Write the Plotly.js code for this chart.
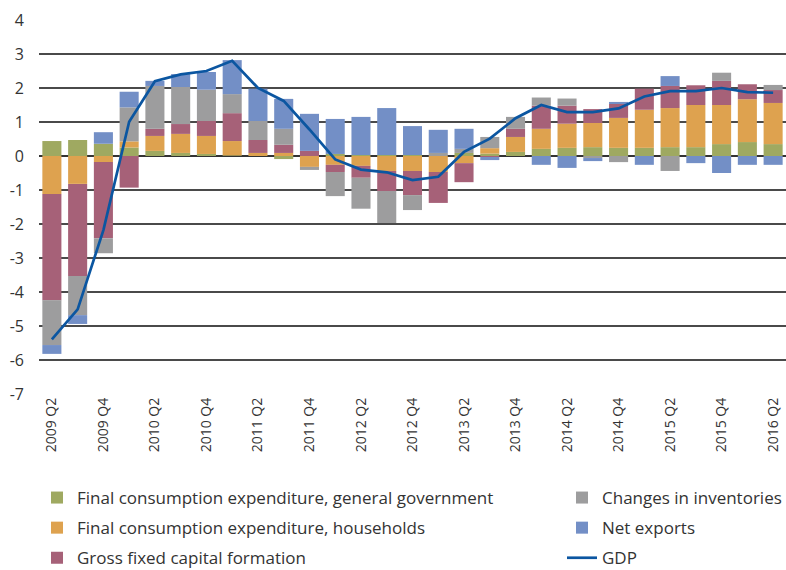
<!DOCTYPE html>
<html>
<head>
<meta charset="utf-8">
<script src="https://cdn.plot.ly/plotly-3.0.1.min.js"></script>
<style>html,body{margin:0;padding:0;background:#fff;}#chart{width:786px;height:570px;}</style>
</head>
<body>
<div id="chart"></div>
<script>
const quarters = ["2009 Q2","2009 Q3","2009 Q4","2010 Q1","2010 Q2","2010 Q3","2010 Q4","2011 Q1","2011 Q2","2011 Q3","2011 Q4","2012 Q1","2012 Q2","2012 Q3","2012 Q4","2013 Q1","2013 Q2","2013 Q3","2013 Q4","2014 Q1","2014 Q2","2014 Q3","2014 Q4","2015 Q1","2015 Q2","2015 Q3","2015 Q4","2016 Q1","2016 Q2"];
const tickLabels = ["2009 Q2","2009 Q4","2010 Q2","2010 Q4","2011 Q2","2011 Q4","2012 Q2","2012 Q4","2013 Q2","2013 Q4","2014 Q2","2014 Q4","2015 Q2","2015 Q4","2016 Q2"];
const yTickVals = [-7,-6,-5,-4,-3,-2,-1,0,1,2,3,4];
const yTickText = ["-7","-6","-5","-4","-3","-2","-1","0","1","2","3","4"];
const govConsumption = [0.44,0.47,0.36,0.25,0.15,0.09,0.06,0.02,0.0,-0.09,0.0,0.06,0.03,0.03,0.03,0.0,0.09,0.07,0.12,0.21,0.24,0.26,0.24,0.24,0.26,0.26,0.35,0.41,0.35];
const hhConsumption = [-1.12,-0.82,-0.18,0.18,0.44,0.56,0.53,0.42,0.09,0.09,-0.32,-0.26,-0.29,-0.44,-0.44,-0.47,-0.21,0.16,0.44,0.59,0.71,0.71,0.88,1.12,1.15,1.24,1.15,1.26,1.21];
const gfcf = [-3.12,-2.71,-2.24,-0.93,0.21,0.29,0.44,0.82,0.38,0.24,0.15,-0.21,-0.35,-0.59,-0.71,-0.91,-0.56,-0.03,0.24,0.68,0.53,0.41,0.41,0.62,0.65,0.58,0.71,0.44,0.38];
const inventories = [-1.32,-1.15,-0.44,1.0,1.26,1.09,0.92,0.56,0.56,0.47,-0.09,-0.71,-0.91,-0.94,-0.44,0.09,0.12,0.33,0.35,0.24,0.21,-0.06,-0.18,0.0,-0.44,0.0,0.24,0.0,0.15];
const netExports = [-0.26,-0.26,0.34,0.46,0.15,0.38,0.52,1.0,0.95,0.88,1.09,1.03,1.12,1.38,0.85,0.68,0.59,-0.09,0.0,-0.26,-0.35,-0.09,0.06,-0.26,0.29,-0.21,-0.5,-0.26,-0.26];
const gdp = [-5.39,-4.51,-2.18,1.01,2.2,2.4,2.5,2.8,2.0,1.62,0.78,-0.1,-0.40,-0.48,-0.71,-0.61,0.12,0.51,1.11,1.5,1.29,1.29,1.40,1.75,1.91,1.91,2.0,1.88,1.86];

const names = ["Final consumption expenditure, general government","Final consumption expenditure, households","Gross fixed capital formation","Changes in inventories","Net exports","GDP"];
const colors = ["#9fa961","#dea24f","#a66178","#9d9d9e","#738fc6","#0b56a1"];
const series = [govConsumption, hhConsumption, gfcf, inventories, netExports];
const legendOf = ["legend","legend","legend","legend2","legend2"];
const ranks = [1,2,3,1,2];

const traces = series.map((s,i)=>({
  type:'bar', x:quarters, y:s, name:names[i],
  marker:{color:colors[i], line:{width:0}},
  legend:legendOf[i], legendrank:ranks[i], legendgroup:'g'+i,
  hoverinfo:'none'
}));
traces.push({type:'scatter', mode:'lines', x:quarters, y:gdp, name:names[5],
  line:{color:colors[5], width:2.7}, legend:'legend2', legendrank:3, legendgroup:'g5', hoverinfo:'none'});

const font = {family:'"Open Sans", sans-serif', color:'#333'};
const legendBase = {
  xref:'paper', yref:'paper', yanchor:'top', xanchor:'left', orientation:'v',
  font:{family:font.family, size:17, color:'#333'}, bgcolor:'rgba(0,0,0,0)',
  tracegroupgap:5, traceorder:'grouped'
};
const layout = {
  width:786, height:570,
  margin:{l:39, r:0, t:20, b:176, autoexpand:false},
  paper_bgcolor:'#fff', plot_bgcolor:'#fff',
  barmode:'relative', bargap:0.26,
  font:font,
  showlegend:true,
  xaxis:{type:'category', categoryorder:'array', categoryarray:quarters,
    tickmode:'array', tickvals:tickLabels, ticktext:tickLabels,
    tickangle:-90, tickfont:{size:14, color:'#333'}, showgrid:false, zeroline:false,
    showline:false, ticks:'', automargin:false},
  yaxis:{range:[-7,4], tickmode:'array', tickvals:yTickVals, ticktext:yTickText,
    tickfont:{size:16, color:'#333'},
    showgrid:true, gridcolor:'#4a4a4a', gridwidth:1.2, zeroline:true, zerolinecolor:'#333', zerolinewidth:1.4,
    ticks:'', ticklabelstandoff:14, automargin:false, fixedrange:true},
  legend:Object.assign({}, legendBase, {x:-2/747, y:-86/374}),
  legend2:Object.assign({}, legendBase, {x:523/747, y:-86/374})
};
Plotly.newPlot('chart', traces, layout, {displayModeBar:false, staticPlot:true});
</script>
</body>
</html>
